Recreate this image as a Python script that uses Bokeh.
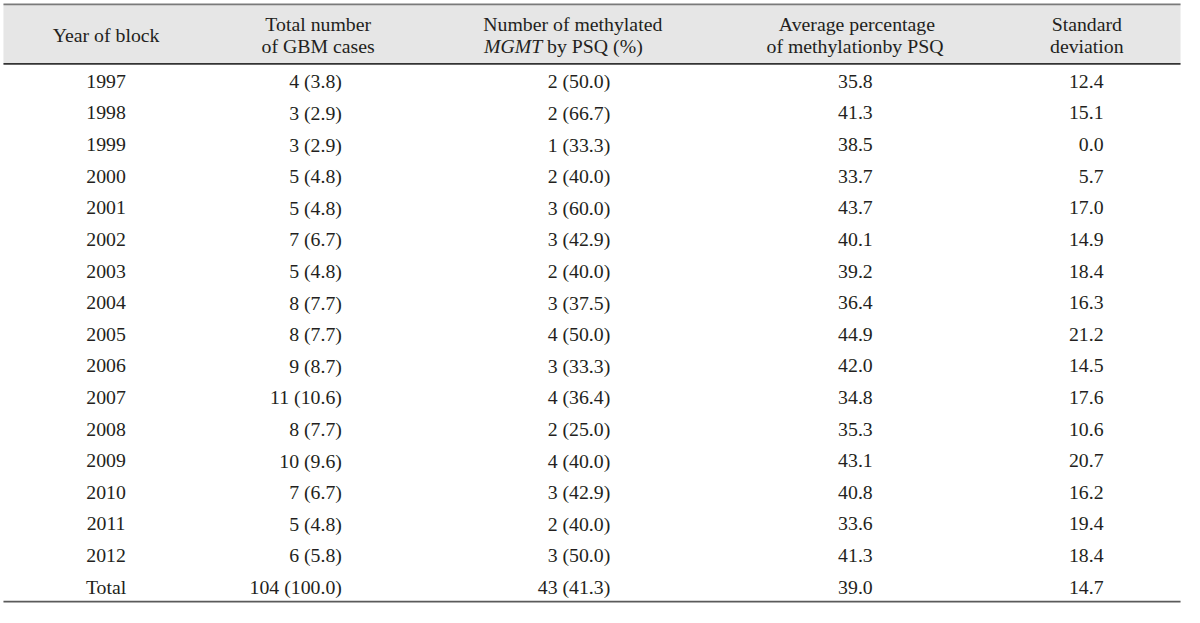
from bokeh.plotting import figure
from bokeh.models import Range1d
from bokeh.core.properties import value
from bokeh.embed import file_html
from bokeh.resources import INLINE

# ---- data ----
years = ["1997", "1998", "1999", "2000", "2001", "2002", "2003", "2004",
         "2005", "2006", "2007", "2008", "2009", "2010", "2011", "2012", "Total"]
total_n = [4, 3, 3, 5, 5, 7, 5, 8, 8, 9, 11, 8, 10, 7, 5, 6, 104]
total_pct = [3.8, 2.9, 2.9, 4.8, 4.8, 6.7, 4.8, 7.7, 7.7, 8.7, 10.6, 7.7, 9.6, 6.7, 4.8, 5.8, 100.0]
meth_n = [2, 2, 1, 2, 3, 3, 2, 3, 4, 3, 4, 2, 4, 3, 2, 3, 43]
meth_pct = [50.0, 66.7, 33.3, 40.0, 60.0, 42.9, 40.0, 37.5, 50.0, 33.3, 36.4, 25.0, 40.0, 42.9, 40.0, 50.0, 41.3]
avg_pct = [35.8, 41.3, 38.5, 33.7, 43.7, 40.1, 39.2, 36.4, 44.9, 42.0, 34.8, 35.3, 43.1, 40.8, 33.6, 41.3, 39.0]
std_dev = [12.4, 15.1, 0.0, 5.7, 17.0, 14.9, 18.4, 16.3, 21.2, 14.5, 17.6, 10.6, 20.7, 16.2, 19.4, 18.4, 14.7]

FONT = value("Liberation Serif")
FS = "19.8px"
TXT = "#231f20"

p = figure(width=1184, height=607, x_range=Range1d(0, 1200), y_range=Range1d(623, 0),
           output_backend="svg", toolbar_location=None, min_border=0)
p.axis.visible = False
p.grid.visible = False
p.outline_line_color = None
p.background_fill_color = "white"

# header band and rules
p.quad(left=[3], right=[1196], top=[4], bottom=[65], fill_color="#e6e6e6", line_color=None)
p.segment(x0=[3], x1=[1196], y0=[4], y1=[4], line_color="#7a7a7a", line_width=1.6)
p.segment(x0=[3], x1=[1196], y0=[65], y1=[65], line_color="#333333", line_width=1.6)
p.segment(x0=[3], x1=[1196], y0=[617], y1=[617], line_color="#5a5a5a", line_width=1.6)

def txt(x, y, t, align="center", style="normal"):
    p.text(x=x, y=y, text=t, text_align=align, text_baseline="middle",
           text_font=FONT, text_font_size=FS, text_color=TXT, text_font_style=style)

# header
txt([107], [35], ["Year of block"])
txt([322, 322], [24, 47], ["Total number", "of GBM cases"])
txt([580], [24], ["Number of methylated"])
txt([549], [47], ["MGMT"], align="right", style="italic")
txt([554], [47], ["by PSQ (%)"], align="left")
txt([868, 866], [24, 47], ["Average percentage", "of methylationby PSQ"])
txt([1101, 1101], [24, 47], ["Standard", "deviation"])

# body
row_y = [83 + i * 32.44 for i in range(len(years))]
txt([107] * len(years), row_y, years)
txt([346] * len(years), row_y, [f"{n} ({v:.1f})" for n, v in zip(total_n, total_pct)], align="right")
txt([618] * len(years), row_y, [f"{n} ({v:.1f})" for n, v in zip(meth_n, meth_pct)], align="right")
txt([884] * len(years), row_y, [f"{v:.1f}" for v in avg_pct], align="right")
txt([1118] * len(years), row_y, [f"{v:.1f}" for v in std_dev], align="right")

open("out.html", "w").write(file_html(p, INLINE))
